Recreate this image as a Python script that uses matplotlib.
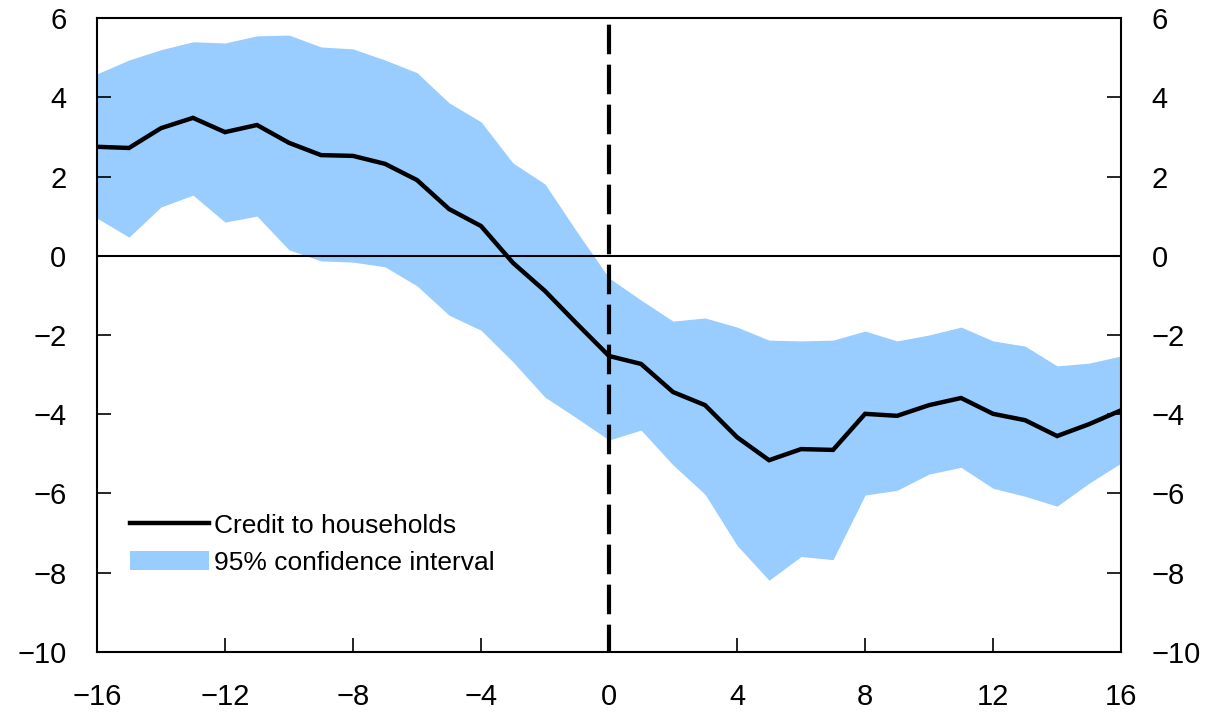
import matplotlib
matplotlib.use("Agg")
import matplotlib.pyplot as plt
from matplotlib.patches import Patch
from matplotlib.lines import Line2D

quarters = list(range(-16, 17))
credit = [2.75, 2.72, 3.22, 3.48, 3.12, 3.30, 2.85, 2.54, 2.52, 2.32, 1.91, 1.18, 0.75,
          -0.18, -0.89, -1.72, -2.53, -2.73, -3.44, -3.77, -4.58, -5.16, -4.88, -4.90,
          -3.99, -4.04, -3.77, -3.59, -3.99, -4.15, -4.55, -4.25, -3.90]
upper = [4.59, 4.94, 5.20, 5.40, 5.37, 5.55, 5.57, 5.27, 5.22, 4.94, 4.62, 3.86, 3.38,
         2.34, 1.81, 0.60, -0.56, -1.12, -1.65, -1.57, -1.80, -2.13, -2.15, -2.13,
         -1.90, -2.15, -2.00, -1.80, -2.15, -2.28, -2.78, -2.71, -2.53]
lower = [0.95, 0.47, 1.23, 1.53, 0.85, 1.00, 0.15, -0.13, -0.16, -0.28, -0.76, -1.50, -1.88,
         -2.68, -3.57, -4.10, -4.65, -4.40, -5.28, -6.02, -7.31, -8.19, -7.59, -7.67,
         -6.04, -5.92, -5.51, -5.34, -5.87, -6.07, -6.32, -5.74, -5.23]
x_ticks = [-16, -12, -8, -4, 0, 4, 8, 12, 16]
y_ticks = [-10, -8, -6, -4, -2, 0, 2, 4, 6]
labels = ["Credit to households", "95% confidence interval"]

band_color = "#99CCFF"
plt.rcParams["font.family"] = ["Liberation Sans", "DejaVu Sans"]

fig = plt.figure(figsize=(12.12, 7.12), dpi=100)
ax = fig.add_axes([0.080, 0.0843, 0.845, 0.8904])

ax.fill_between(quarters, lower, upper, color=band_color, linewidth=0, zorder=1)
ax.axhline(0, color="black", linewidth=1.5, zorder=2)
ax.axvline(0, color="black", linewidth=3, linestyle=(0.54, (7.1, 2.5)), zorder=3)
ax.plot(quarters, credit, color="black", linewidth=3.2, solid_joinstyle="miter", zorder=4)

ax.set_xlim(-16, 16)
ax.set_ylim(-10, 6)
ax.set_xticks(x_ticks)
ax.set_yticks(y_ticks)
ax.set_xticklabels([str(t).replace("-", "\u2212") for t in x_ticks])
ax.set_yticklabels([str(t).replace("-", "\u2212") for t in y_ticks])
ax.tick_params(axis="both", direction="in", length=10, width=1.2, labelsize=21)
ax.tick_params(axis="y", left=True, right=True, labelleft=True, labelright=True, pad=22)
ax.tick_params(axis="x", pad=22)
for s in ax.spines.values():
    s.set_linewidth(1.5)

handles = [Line2D([0], [0], color="black", linewidth=3.2),
           Patch(facecolor=band_color, edgecolor="none")]
ax.legend(handles, labels, loc="lower left", bbox_to_anchor=(0.022, 0.105),
          frameon=False, fontsize=19, handlelength=3.0, handletextpad=0.2,
          labelspacing=0.5, borderaxespad=0)

fig.savefig("out.png", dpi=100)
